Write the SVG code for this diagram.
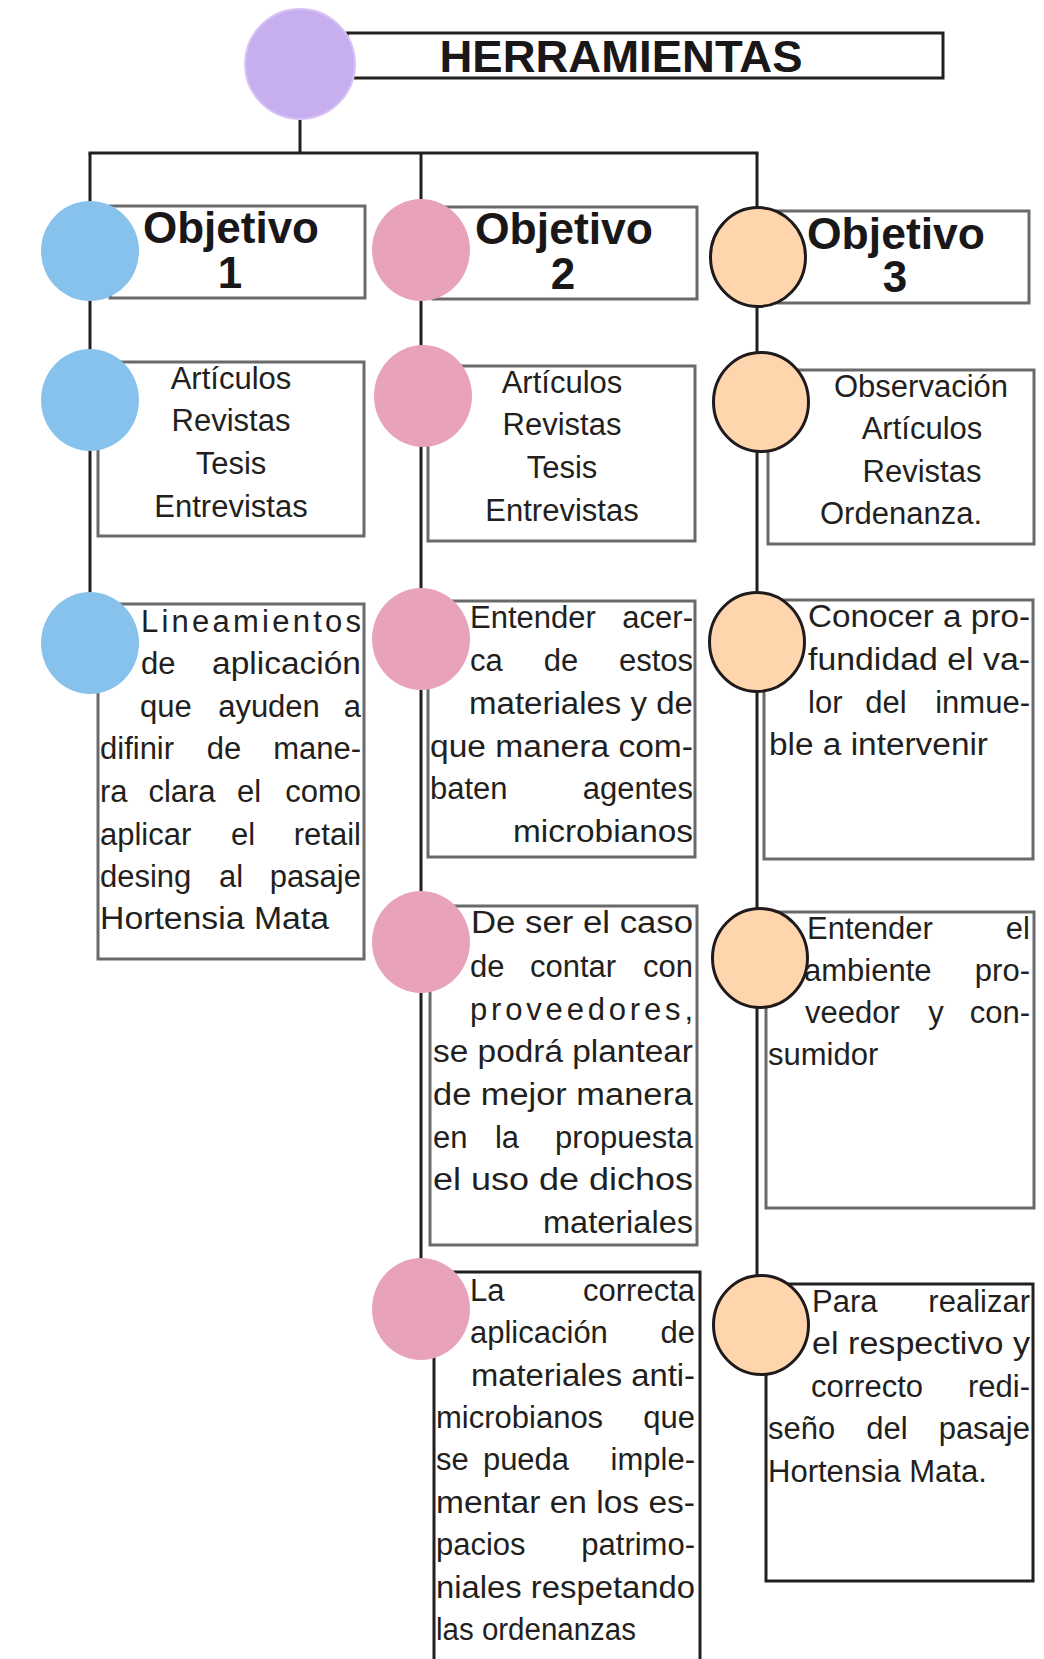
<svg xmlns="http://www.w3.org/2000/svg" width="1044" height="1659" viewBox="0 0 1044 1659">
  <style>
    .box { fill: #ffffff; stroke: #6a6a6a; stroke-width: 3; }
    .box-dark { fill: #ffffff; stroke: #231f20; stroke-width: 3; }
    .conn { stroke: #231f20; stroke-width: 3; fill: none; }
    .purple { fill: #c7aeef; stroke: #d7c4f5; stroke-width: 2; }
    .blue { fill: #86c2ec; }
    .pink { fill: #e8a3bb; }
    .orange { fill: #fed5ad; stroke: #1f1b1c; stroke-width: 3; }
    .t { font-family: "Liberation Sans", Arial, sans-serif; font-size: 31px; fill: #231f20; }
    .m { text-anchor: middle; }
    .e { text-anchor: end; }
    .title { font-family: "Liberation Sans", Arial, sans-serif; font-weight: bold; fill: #1a1718; text-anchor: middle; }
  </style>

  <!-- connectors -->
  <g id="connectors">
    <line class="conn" x1="300" y1="110" x2="300" y2="153"/>
    <line class="conn" x1="88.5" y1="153" x2="758.5" y2="153"/>
    <line class="conn" x1="90" y1="153" x2="90" y2="610"/>
    <line class="conn" x1="421" y1="153" x2="421" y2="1280"/>
    <line class="conn" x1="757" y1="153" x2="757" y2="1290"/>
  </g>

  <!-- root -->
  <g id="herramientas">
    <rect class="box-dark" x="347" y="33" width="596" height="45"/>
    <circle class="purple" cx="300" cy="64" r="55"/>
    <text class="title" x="621" y="72" font-size="44" textLength="363" lengthAdjust="spacingAndGlyphs">HERRAMIENTAS</text>
  </g>

  <!-- objective headers -->
  <g id="objetivo-1">
    <rect class="box" x="110" y="206" width="255" height="92"/>
    <ellipse class="blue" cx="90" cy="251" rx="49" ry="50"/>
    <text class="title" x="231" y="243" font-size="44" textLength="176" lengthAdjust="spacingAndGlyphs">Objetivo</text>
    <text class="title" x="230" y="288" font-size="44">1</text>
  </g>
  <g id="objetivo-2">
    <rect class="box" x="433" y="207" width="264" height="92"/>
    <ellipse class="pink" cx="421" cy="250" rx="49" ry="51"/>
    <text class="title" x="564" y="244" font-size="44" textLength="178" lengthAdjust="spacingAndGlyphs">Objetivo</text>
    <text class="title" x="563" y="289" font-size="44">2</text>
  </g>
  <g id="objetivo-3">
    <rect class="box" x="774" y="211" width="255" height="92"/>
    <ellipse class="orange" cx="758" cy="257" rx="47.5" ry="49.5"/>
    <text class="title" x="896" y="249" font-size="44" textLength="178" lengthAdjust="spacingAndGlyphs">Objetivo</text>
    <text class="title" x="895" y="292" font-size="44">3</text>
  </g>

  <!-- sources -->
  <g id="fuentes-1">
    <rect class="box" x="98" y="362" width="266" height="174"/>
    <ellipse class="blue" cx="90" cy="400" rx="49" ry="51"/>
    <text class="t m" x="231" y="389">Artículos</text>
    <text class="t m" x="231" y="431">Revistas</text>
    <text class="t m" x="231" y="474">Tesis</text>
    <text class="t m" x="231" y="517">Entrevistas</text>
  </g>
  <g id="fuentes-2">
    <rect class="box" x="428" y="366" width="267" height="175"/>
    <ellipse class="pink" cx="423" cy="396" rx="49" ry="51"/>
    <text class="t m" x="562" y="393">Artículos</text>
    <text class="t m" x="562" y="435">Revistas</text>
    <text class="t m" x="562" y="478">Tesis</text>
    <text class="t m" x="562" y="521">Entrevistas</text>
  </g>
  <g id="fuentes-3">
    <rect class="box" x="768" y="370" width="266" height="174"/>
    <ellipse class="orange" cx="761" cy="402" rx="47.5" ry="49.5"/>
    <text class="t m" x="921" y="397">Observación</text>
    <text class="t m" x="922" y="439">Artículos</text>
    <text class="t m" x="922" y="482">Revistas</text>
    <text class="t m" x="901" y="524">Ordenanza.</text>
  </g>

  <!-- goal 1 -->
  <g id="meta-1">
    <rect class="box" x="98" y="604" width="266" height="355"/>
    <ellipse class="blue" cx="90" cy="643" rx="49" ry="51"/>
    <text class="t" x="141" y="632" textLength="220" lengthAdjust="spacing">Lineamientos</text>
    <text class="t" x="141" y="674">de</text>
    <text class="t" x="212" y="674" textLength="149" lengthAdjust="spacingAndGlyphs">aplicación</text>
    <text class="t" x="140" y="717">que</text>
    <text class="t m" x="269" y="717">ayuden</text>
    <text class="t e" x="361" y="717">a</text>
    <text class="t" x="100" y="759">difinir</text>
    <text class="t m" x="224" y="759">de</text>
    <text class="t e" x="361" y="759">mane-</text>
    <text class="t" x="100" y="802">ra</text>
    <text class="t m" x="182" y="802">clara</text>
    <text class="t m" x="249" y="802">el</text>
    <text class="t e" x="361" y="802">como</text>
    <text class="t" x="100" y="845">aplicar</text>
    <text class="t m" x="243" y="845">el</text>
    <text class="t e" x="361" y="845">retail</text>
    <text class="t" x="100" y="887">desing</text>
    <text class="t m" x="231" y="887">al</text>
    <text class="t e" x="361" y="887">pasaje</text>
    <text class="t" x="100" y="929" textLength="229" lengthAdjust="spacingAndGlyphs">Hortensia Mata</text>
  </g>

  <!-- goals 2 -->
  <g id="meta-2a">
    <rect class="box" x="428" y="601" width="267" height="256"/>
    <ellipse class="pink" cx="421" cy="639" rx="49" ry="51"/>
    <text class="t" x="470" y="628">Entender</text>
    <text class="t e" x="693" y="628">acer-</text>
    <text class="t" x="470" y="671">ca</text>
    <text class="t m" x="561" y="671">de</text>
    <text class="t e" x="693" y="671">estos</text>
    <text class="t" x="469" y="714" textLength="224" lengthAdjust="spacingAndGlyphs">materiales y de</text>
    <text class="t" x="430" y="757" textLength="263" lengthAdjust="spacingAndGlyphs">que manera com-</text>
    <text class="t" x="430" y="799">baten</text>
    <text class="t e" x="693" y="799">agentes</text>
    <text class="t" x="513" y="842" textLength="180" lengthAdjust="spacingAndGlyphs">microbianos</text>
  </g>
  <g id="meta-2b">
    <rect class="box" x="430" y="906" width="267" height="339"/>
    <ellipse class="pink" cx="421" cy="942" rx="49" ry="51"/>
    <text class="t" x="471" y="933" textLength="222" lengthAdjust="spacingAndGlyphs">De ser el caso</text>
    <text class="t" x="470" y="977">de</text>
    <text class="t m" x="573" y="977">contar</text>
    <text class="t e" x="693" y="977">con</text>
    <text class="t" x="470" y="1020" textLength="223" lengthAdjust="spacing">proveedores,</text>
    <text class="t" x="433" y="1062" textLength="260" lengthAdjust="spacingAndGlyphs">se podrá plantear</text>
    <text class="t" x="433" y="1105" textLength="260" lengthAdjust="spacingAndGlyphs">de mejor manera</text>
    <text class="t" x="433" y="1148">en</text>
    <text class="t m" x="507" y="1148">la</text>
    <text class="t e" x="693" y="1148">propuesta</text>
    <text class="t" x="433" y="1190" textLength="260" lengthAdjust="spacingAndGlyphs">el uso de dichos</text>
    <text class="t" x="543" y="1233" textLength="150" lengthAdjust="spacingAndGlyphs">materiales</text>
  </g>
  <g id="meta-2c">
    <rect class="box-dark" x="434" y="1272" width="266" height="410"/>
    <ellipse class="pink" cx="421" cy="1309" rx="49" ry="51"/>
    <text class="t" x="470" y="1301">La</text>
    <text class="t e" x="695" y="1301">correcta</text>
    <text class="t" x="470" y="1343">aplicación</text>
    <text class="t e" x="695" y="1343">de</text>
    <text class="t" x="471" y="1386" textLength="224" lengthAdjust="spacingAndGlyphs">materiales anti-</text>
    <text class="t" x="436" y="1428">microbianos</text>
    <text class="t e" x="695" y="1428">que</text>
    <text class="t" x="436" y="1470">se</text>
    <text class="t m" x="526" y="1470">pueda</text>
    <text class="t e" x="695" y="1470">imple-</text>
    <text class="t" x="436" y="1513" textLength="259" lengthAdjust="spacingAndGlyphs">mentar en los es-</text>
    <text class="t" x="436" y="1555">pacios</text>
    <text class="t e" x="695" y="1555">patrimo-</text>
    <text class="t" x="436" y="1598" textLength="259" lengthAdjust="spacingAndGlyphs">niales respetando</text>
    <text class="t" x="436" y="1640" textLength="200" lengthAdjust="spacingAndGlyphs">las ordenanzas</text>
  </g>

  <!-- goals 3 -->
  <g id="meta-3a">
    <rect class="box" x="764" y="600" width="269" height="259"/>
    <ellipse class="orange" cx="757" cy="642" rx="47.5" ry="49.5"/>
    <text class="t" x="808" y="627" textLength="222" lengthAdjust="spacingAndGlyphs">Conocer a pro-</text>
    <text class="t" x="808" y="670" textLength="222" lengthAdjust="spacingAndGlyphs">fundidad el va-</text>
    <text class="t" x="808" y="713">lor</text>
    <text class="t m" x="886" y="713">del</text>
    <text class="t e" x="1030" y="713">inmue-</text>
    <text class="t" x="769" y="755" textLength="219" lengthAdjust="spacingAndGlyphs">ble a intervenir</text>
  </g>
  <g id="meta-3b">
    <rect class="box" x="766" y="912" width="268" height="296"/>
    <ellipse class="orange" cx="760" cy="958" rx="47.5" ry="49.5"/>
    <text class="t" x="807" y="939">Entender</text>
    <text class="t e" x="1030" y="939">el</text>
    <text class="t" x="804" y="981">ambiente</text>
    <text class="t e" x="1030" y="981">pro-</text>
    <text class="t" x="805" y="1023">veedor</text>
    <text class="t m" x="936" y="1023">y</text>
    <text class="t e" x="1030" y="1023">con-</text>
    <text class="t" x="768" y="1065">sumidor</text>
  </g>
  <g id="meta-3c">
    <rect class="box-dark" x="766" y="1284" width="267" height="297"/>
    <ellipse class="orange" cx="761" cy="1325" rx="47.5" ry="49.5"/>
    <text class="t" x="812" y="1312">Para</text>
    <text class="t e" x="1030" y="1312">realizar</text>
    <text class="t" x="812" y="1354" textLength="218" lengthAdjust="spacingAndGlyphs">el respectivo y</text>
    <text class="t" x="811" y="1397">correcto</text>
    <text class="t e" x="1030" y="1397">redi-</text>
    <text class="t" x="768" y="1439">seño</text>
    <text class="t m" x="887" y="1439">del</text>
    <text class="t e" x="1030" y="1439">pasaje</text>
    <text class="t" x="768" y="1482">Hortensia Mata.</text>
  </g>
</svg>
